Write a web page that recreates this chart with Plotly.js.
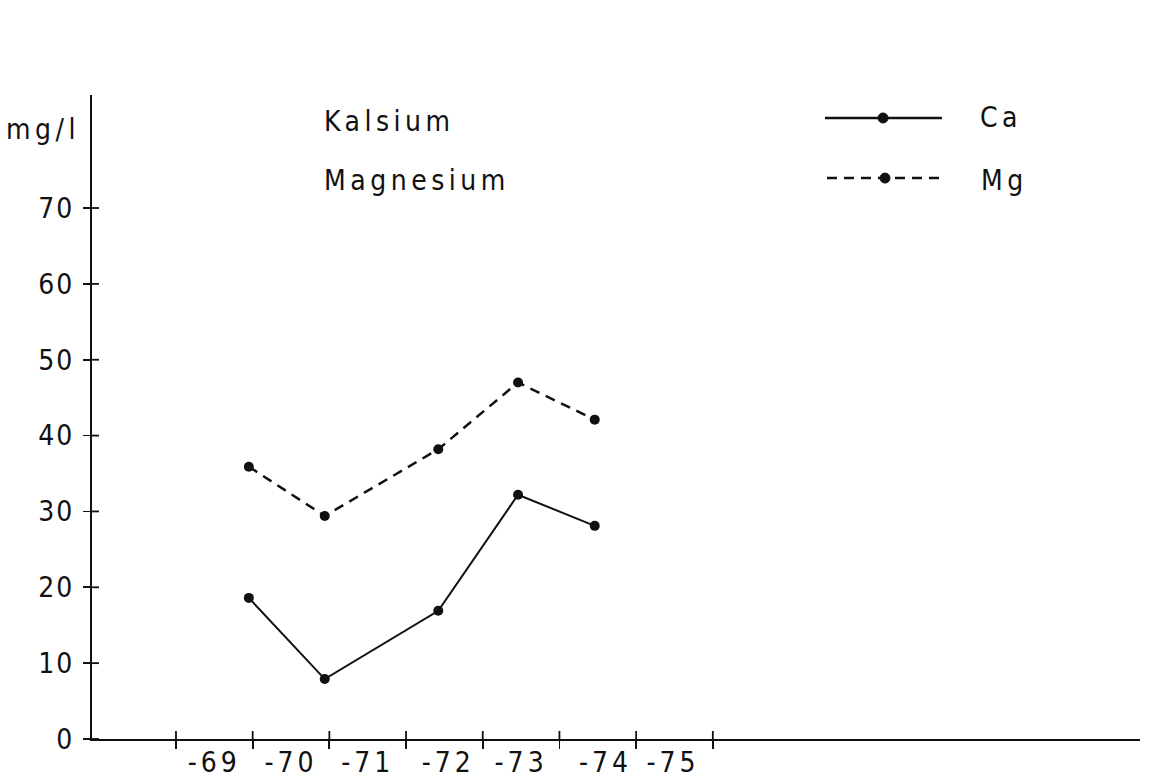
<!DOCTYPE html>
<html>
<head>
<meta charset="utf-8">
<script src="https://cdn.plot.ly/plotly-3.0.1.min.js"></script>
<style>
html,body{margin:0;padding:0;background:#fff;}
#chart{width:1149px;height:781px;}
.annotation-text{letter-spacing:4.5px;}
.x2tick text{letter-spacing:4px;}
.ytick text{letter-spacing:2px;}
</style>
</head>
<body>
<div id="chart"></div>
<script>
// Data (x = position along the year scale, interval boundaries at whole numbers)
const years = [1969.95, 1970.94, 1972.42, 1973.46, 1974.46];
const calcium = [18.6, 7.9, 16.9, 32.2, 28.1];
const magnesium = [35.9, 29.4, 38.2, 47.0, 42.1];

const boundaryTicks = [1969, 1970, 1971, 1972, 1973, 1974, 1975, 1976];
const labelPositions = [1969.5, 1970.5, 1971.5, 1972.55, 1973.5, 1974.6, 1975.48];
const yearLabels = ['-69', '-70', '-71', '-72', '-73', '-74', '-75'];
const yTicks = [0, 10, 20, 30, 40, 50, 60, 70];
const yTickText = ['0', '10', '20', '30', '40', '50', '60', '70'];

const xRange = [1967.905, 1981.57];
const yRange = [0, 84.9];
const FONT_FAMILY = '"Liberation Sans Narrow", "Arial Narrow", "DejaVu Sans Condensed", "Roboto Condensed", "DejaVu Sans", sans-serif';
const font = {family: FONT_FAMILY, size: 28, color: '#111'};
const ink = '#111';
const tickLen = 8;   // px, each side of the axis

const traces = [
  {x: years, y: calcium, type: 'scatter', mode: 'lines+markers', name: 'Ca',
   line: {color: ink, width: 2}, marker: {color: ink, size: 10},
   hoverinfo: 'x+y'},
  {x: years, y: magnesium, type: 'scatter', mode: 'lines+markers', name: 'Mg',
   line: {color: ink, width: 2.5, dash: '10px,7px'}, marker: {color: ink, size: 10},
   hoverinfo: 'x+y'},
  {x: [null], y: [null], xaxis: 'x2', yaxis: 'y', showlegend: false, hoverinfo: 'skip'}
];

const layout = {
  width: 1149, height: 781,
  margin: {l: 92, r: 9, t: 95, b: 42},
  paper_bgcolor: '#fff', plot_bgcolor: '#fff',
  showlegend: false,
  font: font,
  xaxis: {range: xRange, showline: true, linewidth: 2, linecolor: ink,
          ticks: 'outside', ticklen: tickLen, tickwidth: 1.8, tickcolor: ink,
          tickmode: 'array', tickvals: boundaryTicks, showticklabels: false,
          showgrid: false, zeroline: false, fixedrange: true},
  xaxis2: {range: xRange, overlaying: 'x', anchor: 'y', side: 'bottom',
           showline: false, ticks: '', tickmode: 'array', tickvals: labelPositions,
           ticktext: yearLabels, tickfont: font, ticklabelstandoff: 4,
           showgrid: false, zeroline: false},
  yaxis: {range: yRange, showline: true, linewidth: 2, linecolor: ink,
          ticks: 'outside', ticklen: 7, tickwidth: 1.8, tickcolor: ink,
          tickmode: 'array', tickvals: yTicks, ticktext: yTickText, tickfont: font,
          ticklabelstandoff: 3,
          showgrid: false, zeroline: false, fixedrange: true},
  annotations: [
    {text: 'mg/l', xref: 'paper', yref: 'paper', x: -0.0095, y: 0.9457, xanchor: 'right', yanchor: 'middle', showarrow: false, font: font},
    {text: 'Kalsium', xref: 'paper', yref: 'paper', x: 0.2195, y: 0.9596, xanchor: 'left', yanchor: 'middle', showarrow: false, font: font},
    {text: 'Magnesium', xref: 'paper', yref: 'paper', x: 0.2195, y: 0.8665, xanchor: 'left', yanchor: 'middle', showarrow: false, font: font},
    {text: 'Ca', xref: 'paper', yref: 'paper', x: 0.845, y: 0.9658, xanchor: 'left', yanchor: 'middle', showarrow: false, font: font},
    {text: 'Mg', xref: 'paper', yref: 'paper', x: 0.846, y: 0.868, xanchor: 'left', yanchor: 'middle', showarrow: false, font: font}
  ]
};

// inner halves of the crossing tick marks (inside the plot area), from the tick arrays
const pxPerX = (1149 - 92 - 9) / (xRange[1] - xRange[0]);
const pxPerY = (781 - 95 - 42) / (yRange[1] - yRange[0]);
const tickShapes = [];
boundaryTicks.forEach(v => tickShapes.push({type: 'line', xref: 'x', yref: 'y',
  x0: v, x1: v, y0: yRange[0], y1: yRange[0] + tickLen / pxPerY, line: {color: ink, width: 1.8}}));
yTicks.forEach(v => tickShapes.push({type: 'line', xref: 'x', yref: 'y',
  y0: v, y1: v, x0: xRange[0], x1: xRange[0] + 7 / pxPerX, line: {color: ink, width: 1.8}}));

const legendShapes = [
  {type: 'line', xref: 'paper', yref: 'paper', x0: 0.6994, x1: 0.811, y0: 0.9643, y1: 0.9643, line: {color: ink, width: 2.5}},
  {type: 'circle', xref: 'paper', yref: 'paper', xsizemode: 'pixel', ysizemode: 'pixel', xanchor: 0.7548, yanchor: 0.9643, x0: -5, x1: 5, y0: -5, y1: 5, fillcolor: ink, line: {color: ink, width: 1}},
  {type: 'line', xref: 'paper', yref: 'paper', x0: 0.7013, x1: 0.812, y0: 0.871, y1: 0.871, line: {color: ink, width: 2.5, dash: '10px,7px'}},
  {type: 'circle', xref: 'paper', yref: 'paper', xsizemode: 'pixel', ysizemode: 'pixel', xanchor: 0.7567, yanchor: 0.871, x0: -5, x1: 5, y0: -5, y1: 5, fillcolor: ink, line: {color: ink, width: 1}}
];
layout.shapes = tickShapes.concat(legendShapes);

Plotly.newPlot('chart', traces, layout, {displayModeBar: false, staticPlot: true});
</script>
</body>
</html>
